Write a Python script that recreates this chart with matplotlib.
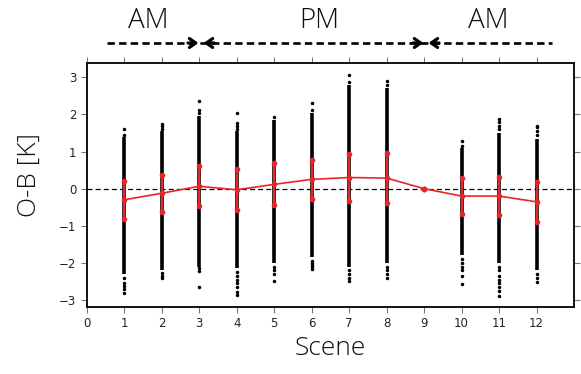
import matplotlib
matplotlib.use("Agg")
import matplotlib.pyplot as plt
import numpy as np

# Scene numbers and red summary statistics (mean and standard deviation of O-B)
scenes = [1, 2, 3, 4, 5, 6, 7, 8, 9, 10, 11, 12]
mean_ob = [-0.30, -0.125, 0.065, -0.03, 0.115, 0.25, 0.30, 0.285, 0.00, -0.20, -0.20, -0.355]
std_ob = [0.51, 0.505, 0.535, 0.55, 0.565, 0.52, 0.63, 0.675, 0.00, 0.49, 0.51, 0.53]

# Black scatter strips: dense core range and sparse tail points per scene
strip_scenes = [1, 2, 3, 4, 5, 6, 7, 8, 10, 11, 12]
core_low = [-2.30, -2.20, -2.10, -2.15, -2.00, -1.85, -2.10, -2.00, -1.80, -2.00, -2.20]
core_high = [1.40, 1.55, 1.95, 1.55, 1.85, 2.05, 2.80, 2.70, 1.10, 1.50, 1.35]
tail_points = [
    [1.45, 1.60, -2.40, -2.55, -2.62, -2.70, -2.82],
    [1.62, 1.68, 1.73, -2.28, -2.35, -2.40],
    [2.05, 2.12, 2.35, -2.15, -2.22, -2.64],
    [1.60, 1.70, 1.78, 2.04, -2.25, -2.35, -2.45, -2.55, -2.65, -2.78, -2.86],
    [1.92, -2.10, -2.20, -2.30, -2.48],
    [2.13, 2.30, -1.95, -2.00, -2.06, -2.12, -2.16],
    [2.87, 3.06, -2.20, -2.30, -2.40, -2.50],
    [2.80, 2.91, -2.10, -2.20, -2.30, -2.40],
    [1.14, 1.28, -1.90, -2.00, -2.10, -2.20, -2.35, -2.56],
    [1.60, 1.70, 1.80, 1.88, -2.10, -2.20, -2.35, -2.45, -2.55, -2.65, -2.75, -2.88],
    [1.45, 1.55, 1.65, 1.68, -2.30, -2.40, -2.52],
]

x_ticks = list(range(0, 13))
y_ticks = [-3, -2, -1, 0, 1, 2, 3]

# Time-of-day periods shown above the axes
period_labels = ["AM", "PM", "AM"]
period_label_x = [1.65, 6.2, 10.7]
period_bounds = [0.53, 3.0, 9.0, 12.41]

fig = plt.figure(figsize=(5.81, 3.74), dpi=100)
ax = fig.add_axes([0.1492, 0.180, 0.8388, 0.651])

# strips
ax.vlines(strip_scenes, core_low, core_high, color="black", lw=2.6, zorder=2)
for sx, pts in zip(strip_scenes, tail_points):
    ax.plot([sx] * len(pts), pts, ls="none", marker="o", ms=1.5, color="black", zorder=2)

# zero reference
ax.axhline(0, color="black", lw=0.9, ls=(0, (4, 2.5)), zorder=3)

# mean +/- std
m = np.array(mean_ob)
s = np.array(std_ob)
red = "#e8262a"
ax.vlines(scenes, m - s, m + s, color=red, lw=1.6, zorder=4)
ax.plot(scenes, m + s, ls="none", marker="o", ms=3.0, color=red, zorder=5)
ax.plot(scenes, m - s, ls="none", marker="o", ms=3.0, color=red, zorder=5)
ax.plot(scenes, m, color=red, lw=1.2, marker="o", ms=3.0, zorder=5)

ax.set_xlim(0, 13)
ax.set_ylim(-3.18, 3.38)
ax.set_xticks(x_ticks)
ax.set_yticks(y_ticks)
ax.set_yticklabels(["\u22123", "\u22122", "\u22121", "0", "1", "2", "3"])
ax.tick_params(axis="both", which="both", direction="out", length=4.5, width=0.8,
               color="#777777", labelsize=8.5, labelcolor="#222222",
               top=True, right=True, labeltop=False, labelright=False, pad=3)
for sp in ax.spines.values():
    sp.set_linewidth(1.4)
    sp.set_color("#111111")

label_font = ["Open Sans", "DejaVu Sans"]
ax.set_xlabel("Scene", fontsize=19, family=label_font, weight=300,
              color="#111111", labelpad=4)
ax.set_ylabel("O-B [K]", fontsize=19, family=label_font, weight=300,
              color="#111111", labelpad=12, y=0.54)

# period arrows above the plot
trans = ax.get_xaxis_transform()
y_arrow = 1.083
ax.plot([period_bounds[0], period_bounds[-1]], [y_arrow, y_arrow], transform=trans,
        clip_on=False, color="black", lw=1.9, ls=(0, (2.8, 1.6)), solid_capstyle="butt")
head = dict(arrowstyle="->,head_length=0.45,head_width=0.32", lw=2.3, color="black",
            shrinkA=0, shrinkB=0)
for b in period_bounds[1:-1]:
    ax.annotate("", xy=(b - 0.02, y_arrow), xytext=(b - 0.3, y_arrow), xycoords=trans,
                textcoords=trans, arrowprops=head, annotation_clip=False)
    ax.annotate("", xy=(b + 0.12, y_arrow), xytext=(b + 0.4, y_arrow), xycoords=trans,
                textcoords=trans, arrowprops=head, annotation_clip=False)

for lab, lx in zip(period_labels, period_label_x):
    ax.text(lx, 1.175, lab, transform=trans, ha="center", va="center",
            fontsize=20, family=label_font, weight=300, color="#111111", clip_on=False)

fig.savefig("out.png", dpi=100)
